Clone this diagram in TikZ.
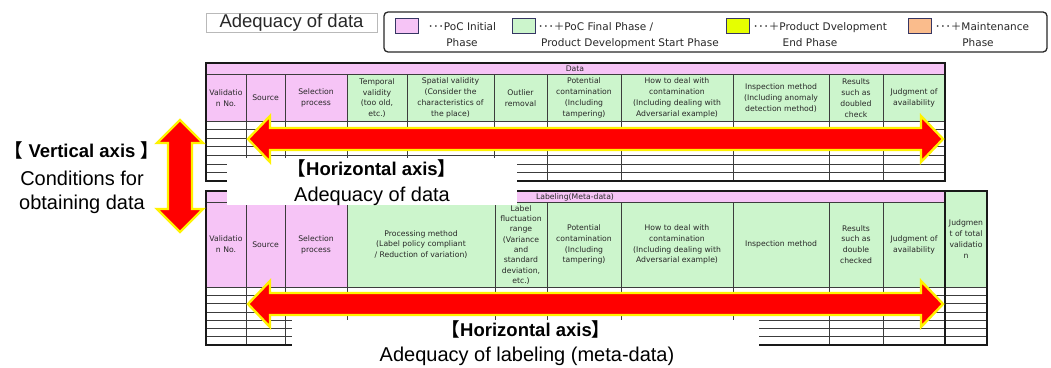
\documentclass[tikz,border=0pt]{standalone}
\usepackage{fontspec}
\setmainfont{Liberation Sans}
\newfontfamily\cjk{Noto Sans CJK JP}
\newfontfamily\cellfont{DejaVu Sans}
\definecolor{hdrpink}{RGB}{246,196,246}
\definecolor{hdrgreen}{RGB}{204,245,204}
\definecolor{swyellow}{RGB}{230,255,0}
\definecolor{sworange}{RGB}{250,188,140}
\definecolor{gridline}{RGB}{60,60,60}
\definecolor{inktext}{RGB}{40,40,40}

% double-headed block arrow between two named points on one row
\newcommand\twowayh[2]{%
  \draw[bigarrow] (#1) -- ([shift={(22,-23)}]#1) -- ([shift={(22,-11)}]#1)
    -- ([shift={(-22,-11)}]#2) -- ([shift={(-22,-23)}]#2) -- (#2)
    -- ([shift={(-22,23)}]#2) -- ([shift={(-22,11)}]#2)
    -- ([shift={(22,11)}]#1) -- ([shift={(22,23)}]#1) -- cycle;}
% double-headed block arrow between a top point (#1) and a bottom point (#2)
\newcommand\twowayv[2]{%
  \draw[bigarrow] (#1) -- ([shift={(23,23)}]#1) -- ([shift={(12,23)}]#1)
    -- ([shift={(12,-23)}]#2) -- ([shift={(23,-23)}]#2) -- (#2)
    -- ([shift={(-23,-23)}]#2) -- ([shift={(-12,-23)}]#2)
    -- ([shift={(-12,23)}]#1) -- ([shift={(-23,23)}]#1) -- cycle;}

\begin{document}
\begin{tikzpicture}[x=1pt,y=-1pt,
  grid/.style={draw=gridline, line width=0.7},
  outer/.style={draw=black!90, line width=1.8},
  cell/.style={font=\cellfont\fontsize{7.7}{10.8}\selectfont, text=inktext, align=center, inner sep=0pt},
  tightcell/.style={cell, font=\cellfont\fontsize{7.7}{10.3}\selectfont},
  legtext/.style={font=\cellfont\fontsize{10.5}{12}\selectfont, text=inktext, inner sep=0pt},
  swatch/.style={draw=gray!70!blue!60!black, line width=0.8, minimum width=23, minimum height=15, inner sep=0pt},
  bigarrow/.style={fill=red, draw=yellow, line width=2.4, line join=miter},
  axisbold/.style={font=\bfseries\fontsize{18.5}{20}\selectfont, text=black, inner sep=0pt},
  axisreg/.style={font=\fontsize{20}{22}\selectfont, text=black, inner sep=0pt},
  whitebox/.style={fill=white, inner sep=0pt}
]
\useasboundingbox (0,0) rectangle (1051,367);
\fill[white] (0,0) rectangle (1051,367);

% ---------- title and legend ----------
\node[draw=gray!55, line width=0.8, minimum width=171, minimum height=19, inner sep=0pt,
      text height=13, text depth=4, font=\fontsize{18.5}{20}\selectfont, text=inktext]
      (title) at (291.5,22.5) {Adequacy of data};
\node[draw=inktext, line width=1.3, rounded corners=4, minimum width=663, minimum height=40, inner sep=0pt]
      (legend) at (715.5,32) {};
\node[swatch, fill=hdrpink]  (swP) at (406.5,25.5) {};
\node[swatch, fill=hdrgreen] (swG) at (523.5,25.5) {};
\node[swatch, fill=swyellow] (swY) at (738,25.5) {};
\node[swatch, fill=sworange] (swO) at (920,25.5) {};
\node[legtext, anchor=base west] (lgP1) at (428,30) {{\cjk ･･･}PoC Initial};
\node[legtext, anchor=base] (lgP2) at (462,46.5) {Phase};
\node[legtext, anchor=base west] (lgG1) at (538,30) {{\cjk ･･･＋}PoC Final Phase /};
\node[legtext, anchor=base] (lgG2) at (630,46.5) {Product Development Start Phase};
\node[legtext, anchor=base west] (lgY1) at (753,30) {{\cjk ･･･＋}Product Dvelopment};
\node[legtext, anchor=base] (lgY2) at (810,46.5) {End Phase};
\node[legtext, anchor=base west] (lgO1) at (935,30) {{\cjk ･･･＋}Maintenance};
\node[legtext, anchor=base] (lgO2) at (978,46.5) {Phase};

% ---------- data table ----------
\fill[hdrpink] (206,63) rectangle (945,74);
\fill[hdrpink] (206,74) rectangle (347,121);
\fill[hdrgreen] (347,74) rectangle (945,121);
\draw[grid] (206,74) -- (945,74);
\foreach \x in {246,285,347,407,494,547,621,733,829,883}
  \draw[grid] (\x,74) -- (\x,181);
\foreach \k in {0,...,6}
  \draw[grid] (206,121+\k*60/7) -- (945,121+\k*60/7);
\draw[outer] (206,63) rectangle (945,181);
\node[cell] (dBand) at (575,69) {Data};
\node[cell] (d1) at (226,98) {Validatio\\n No.};
\node[cell] (d2) at (265.5,98) {Source};
\node[cell] (d3) at (316,98) {Selection\\process};
\node[cell] (d4) at (377,98) {Temporal\\validity\\(too old,\\etc.)};
\node[cell] (d5) at (450.5,98) {Spatial validity\\(Consider the\\characteristics of\\the place)};
\node[cell] (d6) at (520.5,98) {Outlier\\removal};
\node[cell] (d7) at (584,98) {Potential\\contamination\\(Including\\tampering)};
\node[cell] (d8) at (677,98) {How to deal with\\contamination\\(Including dealing with\\Adversarial example)};
\node[cell] (d9) at (781,98) {Inspection method\\(Including anomaly\\detection method)};
\node[cell] (d10) at (856,98) {Results\\such as\\doubled\\check};
\node[cell] (d11) at (914,98) {Judgment of\\availability};

% ---------- labeling table ----------
\fill[hdrpink] (206,191) rectangle (945,202);
\fill[hdrpink] (206,202) rectangle (347,287);
\fill[hdrgreen] (347,202) rectangle (945,287);
\fill[hdrgreen] (945,191) rectangle (987,287);
\draw[grid] (206,202) -- (945,202);
\foreach \x in {246,285,347,495,547,621,733,829,883}
  \draw[grid] (\x,202) -- (\x,345);
\foreach \k in {0,...,6}
  \draw[grid] (206,287+\k*58/7) -- (987,287+\k*58/7);
\draw[outer] (206,191) rectangle (945,345);
\draw[outer] (945,191) rectangle (987,345);
\node[cell] (lBand) at (575,197) {Labeling(Meta-data)};
\node[cell] (l1) at (226,244.5) {Validatio\\n No.};
\node[cell] (l2) at (265.5,244.5) {Source};
\node[cell] (l3) at (316,244.5) {Selection\\process};
\node[cell] (l4) at (421,244.5) {Processing method\\(Label policy compliant\\/ Reduction of variation)};
\node[tightcell] (l5) at (521,245) {Label\\fluctuation\\range\\(Variance\\and\\standard\\deviation,\\etc.)};
\node[cell] (l6) at (584,244.5) {Potential\\contamination\\(Including\\tampering)};
\node[cell] (l7) at (677,244.5) {How to deal with\\contamination\\(Including dealing with\\Adversarial example)};
\node[cell] (l8) at (781,244.5) {Inspection method};
\node[cell] (l9) at (856,244.5) {Results\\such as\\double\\checked};
\node[cell] (l10) at (914,244.5) {Judgment of\\availability};
\node[cell] (l11) at (966,239) {Judgmen\\t of total\\validatio\\n};

% ---------- axis captions ----------
\node[whitebox, minimum width=290, minimum height=47] (capTop) at (372,181.5) {};
\node[whitebox, minimum width=467, minimum height=48] (capBot) at (525.5,344) {};
\node[axisbold, anchor=base] (hTop) at (372,175) {{\cjk 【}Horizontal axis{\cjk 】}};
\node[axisreg, anchor=base] (hTopSub) at (372,201) {Adequacy of data};
\node[axisbold, anchor=base] (hBot) at (526,336) {{\cjk 【}Horizontal axis{\cjk 】}};
\node[axisreg, anchor=base] (hBotSub) at (527,361) {Adequacy of labeling (meta-data)};
\node[axisbold, anchor=base] (vHead) at (82,157) {{\cjk 【} Vertical axis {\cjk 】}};
\node[axisreg, anchor=base] (vSub1) at (82,185) {Conditions for};
\node[axisreg, anchor=base] (vSub2) at (82,209) {obtaining data};

% ---------- block arrows ----------
\coordinate (dataL) at (248,139);
\coordinate (dataR) at (943,139);
\coordinate (labL) at (248,304);
\coordinate (labR) at (943,304);
\coordinate (vertT) at (180,120);
\coordinate (vertB) at (180,232);
\twowayh{dataL}{dataR}
\twowayh{labL}{labR}
\twowayv{vertT}{vertB}
\end{tikzpicture}
\end{document}
